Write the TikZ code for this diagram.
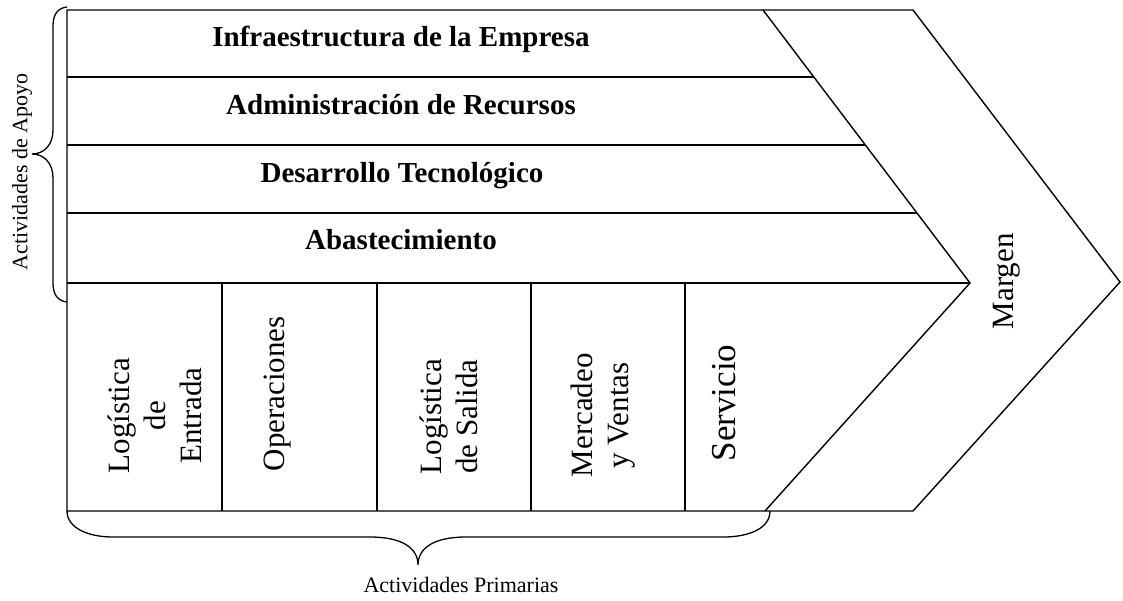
\documentclass[tikz,border=0pt]{standalone}
\usepackage{fontspec}
\setmainfont{Liberation Serif}
\begin{document}
\begin{tikzpicture}[x=1pt,y=-1pt, line width=1.4pt, line join=miter,
  lbl/.style={font=\fontsize{29}{34}\selectfont\bfseries, anchor=base, inner sep=0pt},
  col/.style={font=\fontsize{31}{36}\selectfont, rotate=90, anchor=west, align=center, inner sep=0pt},
  small/.style={font=\fontsize{22}{26}\selectfont, inner sep=0pt}]
\useasboundingbox (0,0) rectangle (1123,601);
% outer chevron
\coordinate (tl) at (67,10);
\coordinate (tr) at (913,10);
\coordinate (tip) at (1120,282);
\coordinate (br) at (913,511);
\coordinate (bl) at (67,511);
\draw (tl) -- (tr) -- (tip) -- (br) -- (bl) -- cycle;
% inner chevron
\coordinate (it) at (763,10);
\coordinate (itip) at (970,283);
\coordinate (ib) at (765,511);
\draw (it) -- (itip) -- (ib);
% support rows
\coordinate (r1l) at (67,77);  \coordinate (r1r) at (813.8,77);
\coordinate (r2l) at (67,145); \coordinate (r2r) at (865.4,145);
\coordinate (r3l) at (67,213); \coordinate (r3r) at (916.9,213);
\coordinate (r4l) at (67,283);
\draw (r1l) -- (r1r);
\draw (r2l) -- (r2r);
\draw (r3l) -- (r3r);
\draw (r4l) -- (itip);
% primary columns
\foreach \x/\n in {222/a,377/b,531/c,685/d}{
  \coordinate (c\n t) at (\x,283);
  \coordinate (c\n b) at (\x,511);
  \draw (c\n t) -- (c\n b);
}
% support labels
\node[lbl] (infra) at (401,47) {Infraestructura de la Empresa};
\node[lbl] (admin) at (401,115) {Administración de Recursos};
\node[lbl] (desa) at (402,183) {Desarrollo Tecnológico};
\node[lbl] (abas) at (401,250) {Abastecimiento};
% primary labels
\node[col] (log1) at (155,474) {Logística\\de\\Entrada};
\node[col] (oper) at (278,472) {Operaciones};
\node[col] (log2) at (449,475) {Logística\\de Salida};
\node[col] (merc) at (603,478) {Mercadeo\\y Ventas};
\node[col, font=\fontsize{35}{40}\selectfont] (serv) at (724,462) {Servicio};
\node[col] (marg) at (1007,330) {Margen};
% left brace
\coordinate (lb1) at (67,7);
\coordinate (lb2) at (67,302);
\draw[line width=1.3pt] (lb1) .. controls (58,8) and (53,14) .. (53,26) -- (53,130)
  .. controls (53,145) and (44,154) .. (32,154)
  .. controls (44,154) and (53,163) .. (53,178) -- (53,283)
  .. controls (53,295) and (58,301) .. (lb2);
\node[small, rotate=90] (apoyo) at (22,172) {Actividades de Apoyo};
% bottom brace
\coordinate (bb2) at (770,511);
\draw[line width=1.3pt] (bl) .. controls (67,528) and (88,537) .. (113,537) -- (370,537)
  .. controls (402,537) and (418,548) .. (418,565)
  .. controls (418,548) and (434,537) .. (466,537) -- (723,537)
  .. controls (750,537) and (770,528) .. (bb2);
\node[small, anchor=base] (prim) at (461,592) {Actividades Primarias};
\end{tikzpicture}
\end{document}
